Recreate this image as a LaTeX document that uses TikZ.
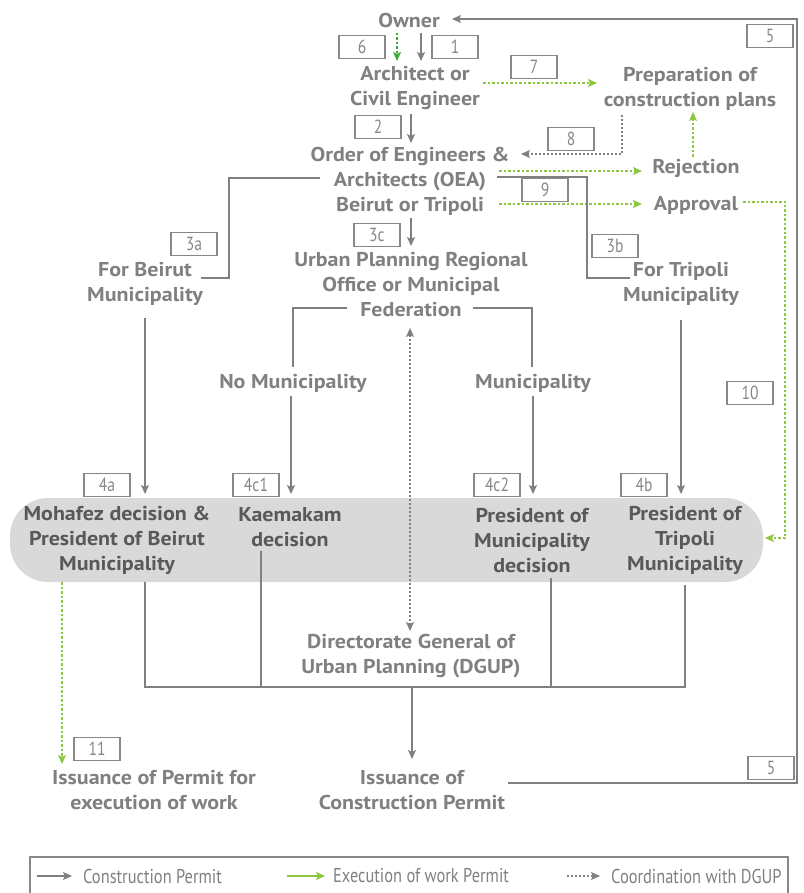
\documentclass[tikz,border=0pt]{standalone}
\usepackage{fontspec}
\setmainfont{PT Sans}
\newfontfamily\condfont[FakeStretch=0.82]{PT Sans}
\newfontfamily\labfont[FakeStretch=1.1]{PT Sans}
\usetikzlibrary{arrows.meta,calc}
\definecolor{tgrey}{RGB}{128,128,128}
\definecolor{dgrey}{RGB}{88,89,91}
\definecolor{lgreen}{RGB}{141,198,63}
\definecolor{dgreen}{RGB}{57,170,53}
\definecolor{bandcol}{RGB}{217,217,217}
\definecolor{lgrey}{RGB}{135,135,135}
\tikzset{
  lab/.style={font=\labfont\fontsize{20}{25}\selectfont\bfseries, text=tgrey, align=center, inner sep=0pt, yshift=-1.5pt},
  dlab/.style={lab, text=dgrey},
  nb/.style={draw=lgrey, line width=1.2pt, minimum width=46pt, minimum height=23pt, inner sep=0pt,
    font=\condfont\fontsize{19}{19}\selectfont, text=lgrey},
  tip/.style={-{Stealth[length=9pt,width=8pt,inset=2pt]}},
  cp/.style={draw=tgrey, line width=1.2pt, tip},
  cpl/.style={draw=tgrey, line width=1.2pt},
  ew/.style={draw=lgreen, line width=1.2pt, dash pattern=on 2.5pt off 2pt, tip},
  ewd/.style={draw=dgreen, line width=1.2pt, dash pattern=on 2.5pt off 2pt, tip},
  co/.style={draw=tgrey, line width=1.2pt, dash pattern=on 2pt off 2pt, tip},
  leg/.style={font=\condfont\fontsize{20}{20}\selectfont, text=tgrey, anchor=west, inner sep=0pt}
}
\begin{document}
\begin{tikzpicture}[x=1pt,y=-1pt]
\useasboundingbox (0,0) rectangle (803,893);
% grey band
\fill[bandcol, rounded corners=38pt] (10,498) rectangle (763,582);

% text nodes
\node[lab] (owner) at (409,19) {Owner};
\node[lab] (arch) at (415,87) {Architect or\\Civil Engineer};
\node[lab] (prep) at (690,87) {Preparation of\\construction plans};
\node[lab] (oea) at (410,180) {Order of Engineers \&\\Architects (OEA)\\Beirut or Tripoli};
\node[lab] (rej) at (696,167) {Rejection};
\node[lab] (appr) at (696,204) {Approval};
\node[lab] (forb) at (145,282) {For Beirut\\Municipality};
\node[lab] (upr) at (411,283) {Urban Planning Regional\\Office or Municipal\\Federation};
\node[lab] (fort) at (681,282) {For Tripoli\\Municipality};
\node[lab] (nomun) at (293,382) {No Municipality};
\node[lab] (mun) at (533,382) {Municipality};
\node[dlab] (moh) at (117,539) {Mohafez decision \&\\President of Beirut\\Municipality};
\node[dlab] (kae) at (290,526) {Kaemakam\\decision};
\node[dlab] (pmun) at (532,539) {President of\\Municipality\\decision};
\node[dlab] (ptrip) at (685,539) {President of\\Tripoli\\Municipality};
\node[lab] (dgup) at (411,655) {Directorate General of\\Urban Planning (DGUP)};
\node[lab] (iperm) at (154,789) {Issuance of Permit for\\execution of work};
\node[lab] (icp) at (412,789) {Issuance of\\Construction Permit};

% number boxes
\node[nb] (b6) at (362,47) {6};
\node[nb] (b1) at (455,47) {1};
\node[nb] (b5t) at (770,36) {5};
\node[nb] (b7) at (534,67) {7};
\node[nb] (b2) at (378,127) {2};
\node[nb] (b8) at (571,139) {8};
\node[nb] (b9) at (545,190) {9};
\node[nb] (b3a) at (194,244) {3a};
\node[nb] (b3c) at (377,235) {3c};
\node[nb] (b3b) at (615,246) {3b};
\node[nb] (b10) at (750,393) {10};
\node[nb] (b4a) at (107,485) {4a};
\node[nb] (b4c1) at (256,485) {4c1};
\node[nb] (b4c2) at (497,485) {4c2};
\node[nb] (b4b) at (644,485) {4b};
\node[nb] (b11) at (97,749) {11};
\node[nb] (b5b) at (771,768) {5};

% connectors
\draw[cp] (421,33) -- (421,61);
\draw[ewd] (397,33) -- (397,61);
\draw[ew] (483,83) -- (597,83);
\draw[co] (622,115) -- (622,154) -- (521,154);
\draw[ew] (693,157) -- (693,112);
\draw[cp] (411,114) -- (411,143);
\draw[ew] (499,171) -- (642,171);
\draw[ew] (499,204) -- (642,204);
\draw[ew] (743,202) -- (785,202) -- (785,538) -- (765,538);
\draw[cpl] (497,177) -- (587,177) -- (587,278) -- (630,278);
\draw[cpl] (320,178) -- (229,178) -- (229,278) -- (201,278);
\draw[cp] (411,218) -- (411,246);
\draw[cpl] (347,308) -- (293,308) -- (293,367);
\draw[cpl] (473,308) -- (532,308) -- (532,367);
\draw[co, {Stealth[length=9pt,width=8pt,inset=2pt]}-{Stealth[length=9pt,width=8pt,inset=2pt]}] (410,328) -- (410,631);
\draw[cp] (145,318) -- (145,494);
\draw[cp] (291,396) -- (291,494);
\draw[cp] (533,396) -- (533,494);
\draw[cp] (681,320) -- (681,494);
\draw[cpl] (145,582) -- (145,687) -- (685,687) -- (685,585);
\draw[cpl] (261,551) -- (261,687);
\draw[cpl] (551,578) -- (551,687);
\draw[cp] (412,687) -- (412,759);
\draw[ew] (62,582) -- (62,764);
\draw[cp] (508,783) -- (797,783) -- (797,19) -- (452,19);

% legend
\draw[lgrey, line width=1.2pt] (30,900) -- (30,857) -- (788,857) -- (788,900);
\draw[cp] (37,876) -- (72,876);
\node[leg] (l1) at (83,876) {Construction Permit};
\draw[cp, draw=lgreen] (287,876) -- (325,876);
\node[leg] (l2) at (333,876) {Execution of work Permit};
\draw[co] (567,876) -- (600,876);
\node[leg] (l3) at (611,876) {Coordination with DGUP};
\end{tikzpicture}
\end{document}
